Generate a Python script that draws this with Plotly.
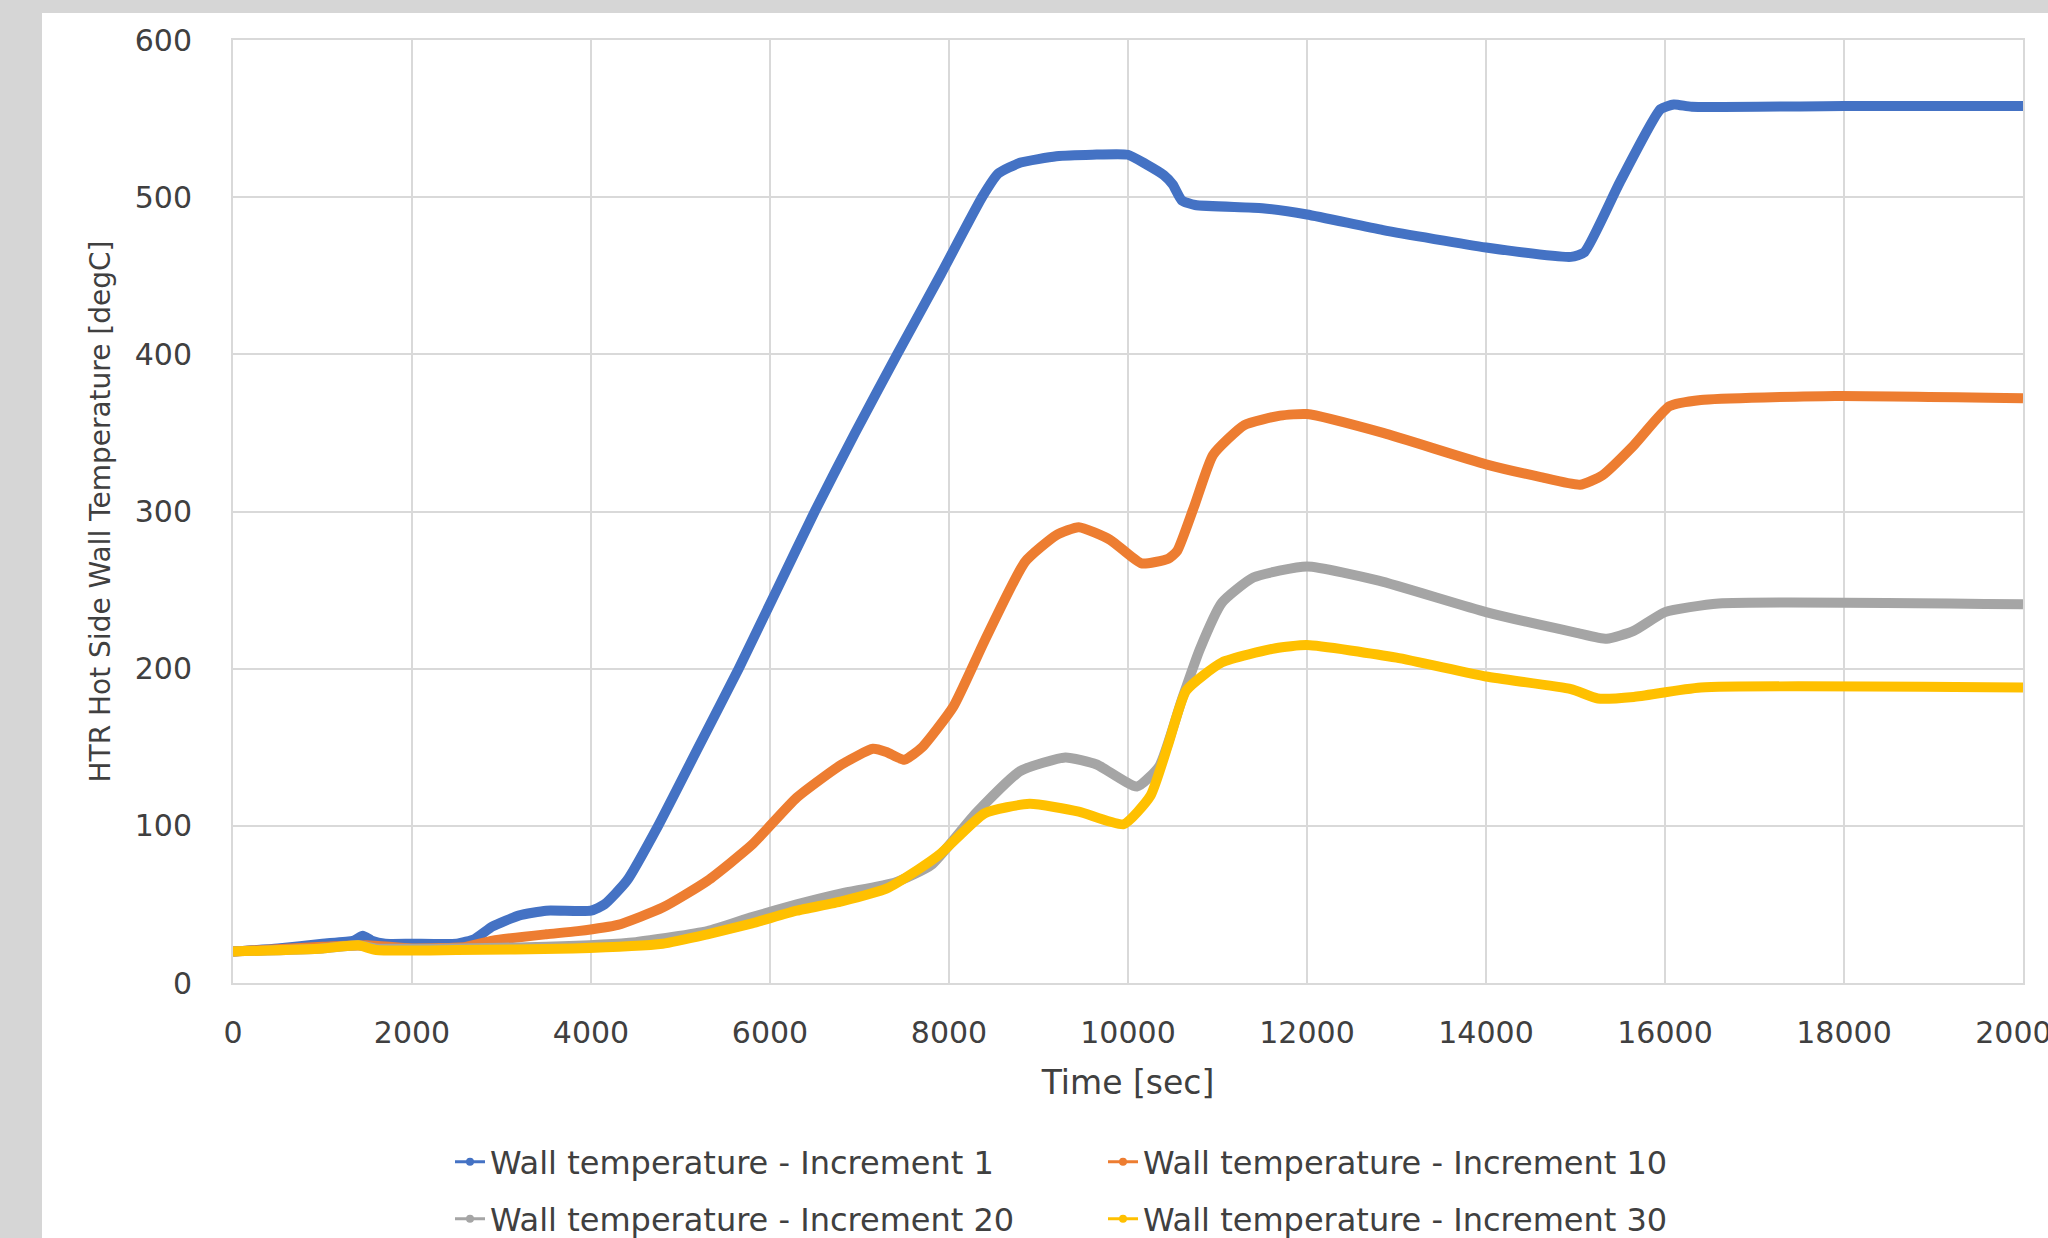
import plotly.graph_objects as go

# ---------------- data ----------------
t_inc1 = [0, 500, 1000, 1350, 1450, 1550, 1700, 2000, 2500, 2700, 2900, 3200, 3500, 4000, 4150, 4400,
          4750, 5200, 5650, 6075, 6500, 6950, 7420, 7900, 8370, 8550, 8800, 9200, 9600, 10000, 10200,
          10400, 10500, 10600, 10750, 11500, 12000, 12850, 14000, 14950, 15100, 15500, 15950, 16100,
          16300, 18000, 20000]
T_inc1 = [20, 22, 25, 27, 30, 27, 25, 25, 25, 28, 36, 43, 46, 46, 50, 65,
          100, 150, 200, 250, 300, 350, 400, 450, 500, 515, 522, 526, 527, 527, 521,
          514, 508, 498, 495, 493, 489, 479, 468, 462, 465, 510, 556, 559,
          557.5, 558, 558]

t_inc10 = [0, 1000, 1500, 2000, 2600, 2900, 3500, 3850, 4300, 4800, 5300, 5800, 6300, 6800, 7150,
           7300, 7500, 7700, 8050, 8400, 8850, 9200, 9450, 9800, 10150, 10450, 10550, 10750, 10950,
           11300, 11700, 12000, 12850, 14000, 14600, 15050, 15300, 15650, 16050, 16400, 17900, 20000]
T_inc10 = [20, 23, 24, 22, 23, 27, 31, 33, 37, 48, 65, 88, 118, 139, 149,
           147, 142, 150, 176, 218, 268, 285, 290, 282, 267, 270, 275, 305, 336,
           355, 361, 362, 350, 330, 322, 317, 323, 342, 367, 371, 373.5, 372]

t_inc20 = [0, 1000, 1400, 1600, 2500, 3500, 4500, 5300, 5800, 6300, 6800, 7400, 7800, 8300, 8800,
           9300, 9650, 10100, 10350, 10600, 10800, 11050, 11400, 12000, 12800, 14000, 15000, 15350,
           15650, 16000, 16600, 20000]
T_inc20 = [20, 22, 24, 22, 22, 23, 26, 33, 42, 50, 57, 64, 75, 108, 135,
           143.5, 139, 125, 138, 180, 212, 242, 258, 265, 256, 236, 223, 219,
           224, 236, 241.5, 241]

t_inc30 = [0, 1000, 1400, 1600, 2500, 3800, 4800, 5300, 5800, 6300, 6800, 7300, 7650, 7900, 8400,
           8900, 9450, 9950, 10250, 10450, 10650, 11050, 11650, 12000, 13000, 14000, 14950, 15250,
           15650, 16400, 20000]
T_inc30 = [20, 22, 24, 21, 21, 22, 25, 31, 38, 46, 52, 60, 72, 82, 108,
           114, 109, 101, 119, 152, 186, 204, 213, 215, 207, 195, 187, 181,
           182, 188, 188]

series_names = ["Wall temperature - Increment 1", "Wall temperature - Increment 10",
                "Wall temperature - Increment 20", "Wall temperature - Increment 30"]
series_colors = ["#4472C4", "#ED7D31", "#A5A5A5", "#FFC000"]

x_ticks = [0, 2000, 4000, 6000, 8000, 10000, 12000, 14000, 16000, 18000, 20000]
y_ticks = [0, 100, 200, 300, 400, 500, 600]

x_title = "Time [sec]"
y_title = "HTR Hot Side Wall Temperature [degC]"

# ---------------- figure ----------------
W, H = 2048, 1238
ML, MR, MT, MB = 233, 25, 40, 255
PW, PH = W - ML - MR, H - MT - MB

FONT = "DejaVu Sans"
TXT = "#404040"
GRID = "#D9D9D9"

fig = go.Figure()
xs = [t_inc1, t_inc10, t_inc20, t_inc30]
ys = [T_inc1, T_inc10, T_inc20, T_inc30]
for x, y, name, col in zip(xs, ys, series_names, series_colors):
    fig.add_trace(go.Scatter(x=x, y=y, mode="lines", name=name, showlegend=False,
                             line=dict(color=col, width=10, shape="spline", smoothing=0.5),
                             hoverinfo="skip"))

# legend entries (thin line with dot, as in the reference legend)
legend_ids = ["legend", "legend", "legend2", "legend2"]
for name, col, lg in zip(series_names, series_colors, legend_ids):
    fig.add_trace(go.Scatter(x=[None], y=[None], mode="lines+markers", name=name,
                             legend=lg, showlegend=True,
                             line=dict(color=col, width=3),
                             marker=dict(color=col, size=8)))


def px2paper_x(px):
    return (px - ML) / PW


def px2paper_y(py):
    return (H - MB - py) / PH


legend_common = dict(orientation="h", xanchor="left", yanchor="middle",
                     font=dict(family=FONT, size=32, color=TXT),
                     bgcolor="rgba(0,0,0,0)", entrywidth=608, entrywidthmode="pixels",
                     itemclick=False, itemdoubleclick=False)

fig.update_layout(
    width=W, height=H,
    margin=dict(l=ML, r=MR, t=MT, b=MB, pad=0, autoexpand=False),
    paper_bgcolor="#D6D6D6",
    plot_bgcolor="white",
    font=dict(family=FONT, color=TXT),
    showlegend=True,
    legend=dict(x=px2paper_x(450), y=px2paper_y(1162), **legend_common),
    legend2=dict(x=px2paper_x(450), y=px2paper_y(1219), **legend_common),
    shapes=[dict(type="rect", xref="paper", yref="paper", layer="below",
                 x0=px2paper_x(42), x1=px2paper_x(W + 5),
                 y0=px2paper_y(H + 5), y1=px2paper_y(13),
                 fillcolor="white", line=dict(width=0))],
)

fig.update_xaxes(range=[0, 20000], tickvals=x_ticks, tickformat="d", automargin=False,
                 showgrid=True, gridcolor=GRID, gridwidth=2,
                 showline=True, linecolor=GRID, linewidth=2, mirror=True,
                 zeroline=False, ticks="", ticklabelstandoff=22, ticklabeloverflow="allow",
                 tickfont=dict(family=FONT, size=30, color=TXT),
                 title=dict(text=x_title, font=dict(family=FONT, size=33, color=TXT), standoff=22))
fig.update_yaxes(range=[0, 600], tickvals=y_ticks, automargin=False,
                 showgrid=True, gridcolor=GRID, gridwidth=2,
                 showline=True, linecolor=GRID, linewidth=2, mirror=True,
                 zeroline=False, ticks="", ticklabelstandoff=33,
                 tickfont=dict(family=FONT, size=30, color=TXT),
                 title=dict(text=y_title, font=dict(family=FONT, size=28, color=TXT), standoff=16))

fig.write_html("out.html", config={"displayModeBar": False},
               post_script="document.body.style.margin='0';document.body.style.overflow='hidden';")
